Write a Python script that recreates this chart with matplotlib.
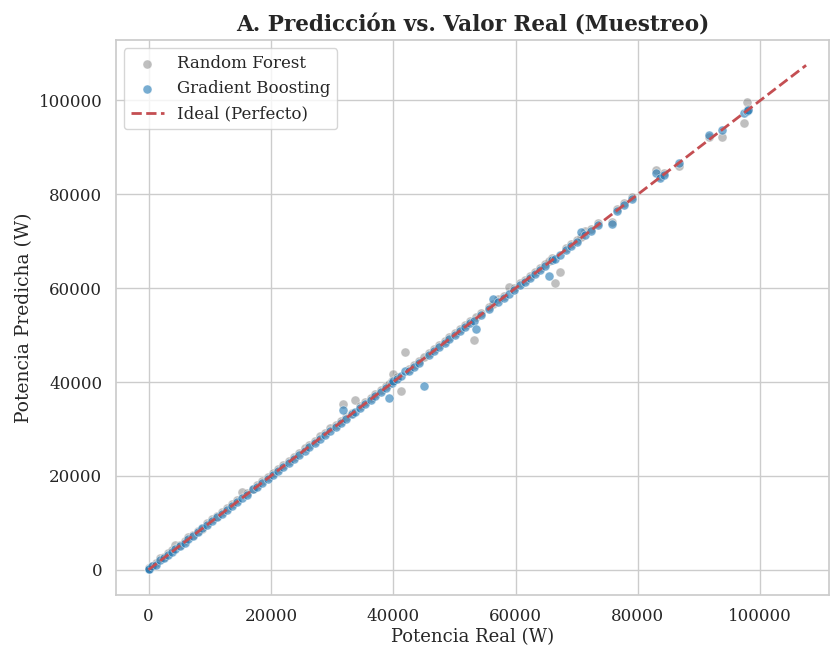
import matplotlib
matplotlib.use("Agg")
import matplotlib.pyplot as plt
import seaborn as sns

# valores reales (W) y predicciones de cada modelo
real_w = [
    0, 150, 600, 1200, 1900, 2500, 3100, 3800, 4400, 5200,
    5900, 6500, 7300, 8100, 8800, 9600, 10400, 11200, 12000, 12900,
    13700, 14500, 15300, 16100, 17000, 17800, 18600, 19500, 20300, 21200,
    22000, 22900, 23800, 24600, 25500, 26300, 27200, 28000, 28900, 29700,
    30600, 31400, 31800, 32300, 33200, 33800, 34600, 35400, 36300, 37100,
    38000, 38900, 39300, 39800, 40000, 40700, 41300, 41900, 42500, 43400,
    44200, 45000, 45800, 46700, 47500, 48400, 49200, 50100, 51000, 51800,
    52600, 53200, 53500, 54400, 55700, 56300, 57200, 58100, 58900, 59800,
    60700, 61500, 62300, 63200, 64000, 64800, 65400, 66000, 66400, 67200,
    68200, 69100, 70000, 70700, 71400, 72300, 73500, 75700, 76600, 77800,
    79100, 83000, 83600, 84300, 86800, 91700, 93800, 97400, 97800, 98000,
]
rf_pred = [
    300, 400, 900, 1500, 2400, 2700, 3500, 4200, 5300, 5300,
    6100, 6900, 7500, 8300, 8700, 9900, 10900, 11400, 12300, 13200,
    14000, 14900, 16600, 16300, 17200, 18100, 18900, 19700, 20600, 21500,
    22300, 23100, 24100, 24800, 25900, 26600, 27500, 28400, 29100, 30100,
    30900, 31700, 35300, 32600, 33500, 36200, 34900, 35700, 36600, 37400,
    38300, 39200, 39600, 40200, 41700, 41000, 38100, 46500, 42800, 43700,
    44500, 45300, 46100, 47100, 47800, 48700, 49600, 50400, 51300, 52200,
    53000, 49000, 53900, 54700, 56000, 56600, 57600, 58400, 60200, 60100,
    61000, 61800, 62700, 63500, 64400, 65200, 65800, 66400, 61200, 63400,
    68500, 69400, 70300, 71000, 72200, 72600, 73800, 74200, 76900, 78200,
    79400, 85200, 84000, 84600, 86100, 92300, 92300, 95300, 99600, 98200,
]
gb_pred = [
    100, 200, 700, 1100, 2000, 2400, 3200, 3700, 4500, 5100,
    5800, 6600, 7200, 8000, 8900, 9500, 10300, 11300, 11900, 12800,
    13600, 14400, 15200, 16000, 17100, 17700, 18500, 19400, 20200, 21100,
    21900, 22800, 23700, 24500, 25400, 26200, 27100, 27900, 28800, 29600,
    30500, 31300, 34000, 32200, 33100, 33700, 34500, 35300, 36200, 37000,
    37900, 38800, 36600, 39700, 40300, 40600, 41200, 42300, 42400, 43300,
    44100, 39200, 45700, 46600, 47400, 48300, 49100, 50000, 50900, 51700,
    52500, 53100, 51400, 54300, 55600, 57800, 57100, 58000, 58800, 59700,
    60600, 61400, 62200, 63100, 63900, 64700, 62500, 65900, 66300, 67100,
    68100, 69000, 69900, 72000, 71300, 72200, 73400, 73700, 76500, 77700,
    79000, 84600, 83400, 84200, 86700, 92700, 93800, 97400, 97700, 97900,
]
ideal_range = [0, 107500]

sns.set_theme(style="whitegrid")
plt.rcParams['font.family'] = ['DejaVu Serif']

fig, ax = plt.subplots(figsize=(8.31, 6.46), dpi=100)
fig.subplots_adjust(left=0.139, right=0.998, top=0.938, bottom=0.079)

ax.scatter(real_w, rf_pred, s=42, color='gray', alpha=0.5,
           edgecolors='white', linewidths=0.5, label='Random Forest')
ax.scatter(real_w, gb_pred, s=42, color='tab:blue', alpha=0.6,
           edgecolors='white', linewidths=0.5, label='Gradient Boosting')
ax.plot(ideal_range, ideal_range, '--', color='#c44e52', lw=2,
        label='Ideal (Perfecto)')

ax.set_xlim(-5400, 111300)
ax.set_title('A. Predicción vs. Valor Real (Muestreo)', fontsize=15.5,
             fontweight='bold')
ax.set_xlabel('Potencia Real (W)', fontsize=13, labelpad=2)
ax.set_ylabel('Potencia Predicha (W)', fontsize=13.5)
ax.tick_params(labelsize=12)
ax.legend(loc='upper left', fontsize=12)

fig.savefig('out.png', dpi=100)
